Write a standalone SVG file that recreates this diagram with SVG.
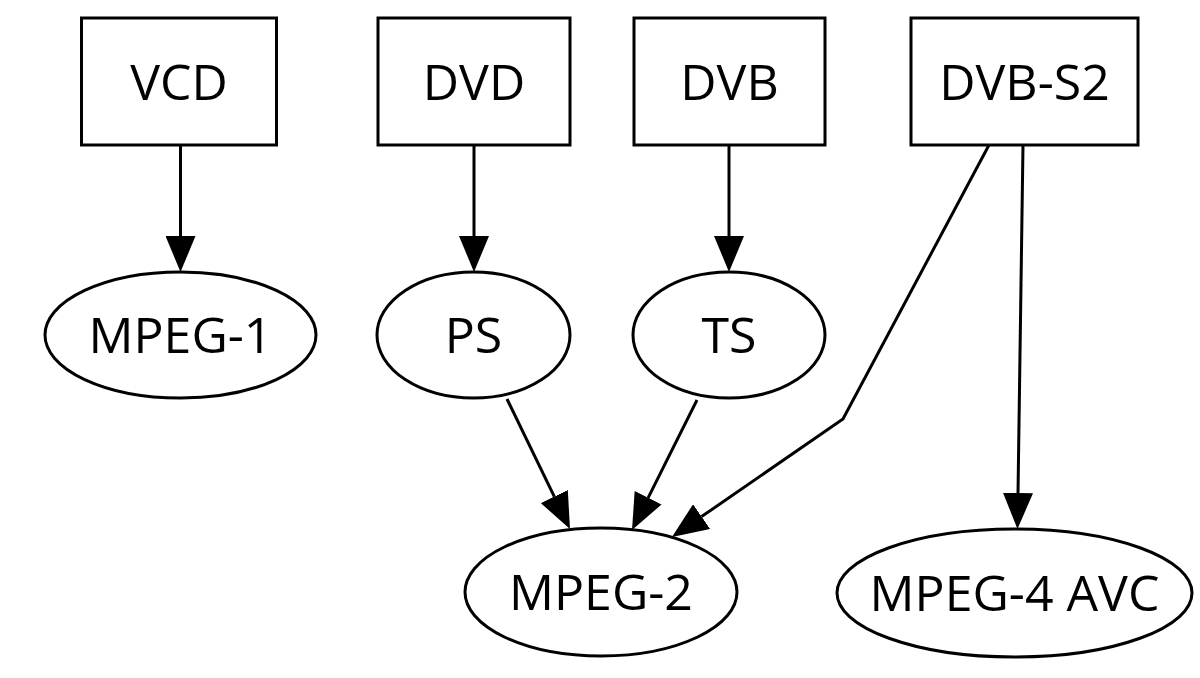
<svg xmlns="http://www.w3.org/2000/svg" width="1200" height="678" viewBox="0 0 1200 678">
<style>
.n rect,.n ellipse{fill:#fff;stroke:#000;stroke-width:3}
.n text{font-family:"Open Sans","Noto Sans","DejaVu Sans",sans-serif;font-size:50px;text-anchor:middle;fill:#000}
.e path{fill:none;stroke:#000;stroke-width:3;marker-end:url(#ah)}
</style>
<defs>
<marker id="ah" markerUnits="userSpaceOnUse" viewBox="0 0 36 30" refX="0" refY="15" markerWidth="36" markerHeight="30" orient="auto">
<path d="M0,0 L36,15 L0,30 Z" fill="#000"/>
</marker>
</defs>
<rect width="1200" height="678" fill="#fff"/>
<g class="e" id="edges">
<path d="M180.5,145 L180.5,236"/>
<path d="M474,145 L474,236"/>
<path d="M729,145 L729,236"/>
<path d="M1023,145 L1018,493"/>
<path d="M989,145 L843,419 L701.6,516.6"/>
<path d="M507,399 L554.3,496.6"/>
<path d="M697,400 L648.1,497.8"/>
</g>
<g class="n" id="VCD"><rect x="81.5" y="18" width="195" height="127"/><text x="179" y="99.5">VCD</text></g>
<g class="n" id="DVD"><rect x="378" y="18" width="192" height="127"/><text x="474" y="99.5">DVD</text></g>
<g class="n" id="DVB"><rect x="634" y="18" width="191" height="127"/><text x="729.5" y="99.5">DVB</text></g>
<g class="n" id="DVB-S2"><rect x="911" y="18" width="227" height="127"/><text x="1024.5" y="99.5">DVB-S2</text></g>
<g class="n" id="MPEG-1"><ellipse cx="180.5" cy="335" rx="135.5" ry="63"/><text x="180.5" y="353">MPEG-1</text></g>
<g class="n" id="PS"><ellipse cx="473.5" cy="335" rx="96.5" ry="63"/><text x="473.5" y="353">PS</text></g>
<g class="n" id="TS"><ellipse cx="729" cy="335" rx="96" ry="63"/><text x="729" y="353">TS</text></g>
<g class="n" id="MPEG-2"><ellipse cx="601" cy="592" rx="136" ry="64"/><text x="601" y="610">MPEG-2</text></g>
<g class="n" id="MPEG-4_AVC"><ellipse cx="1014.5" cy="593" rx="177.5" ry="64"/><text x="1014.5" y="611">MPEG-4 AVC</text></g>
</svg>
